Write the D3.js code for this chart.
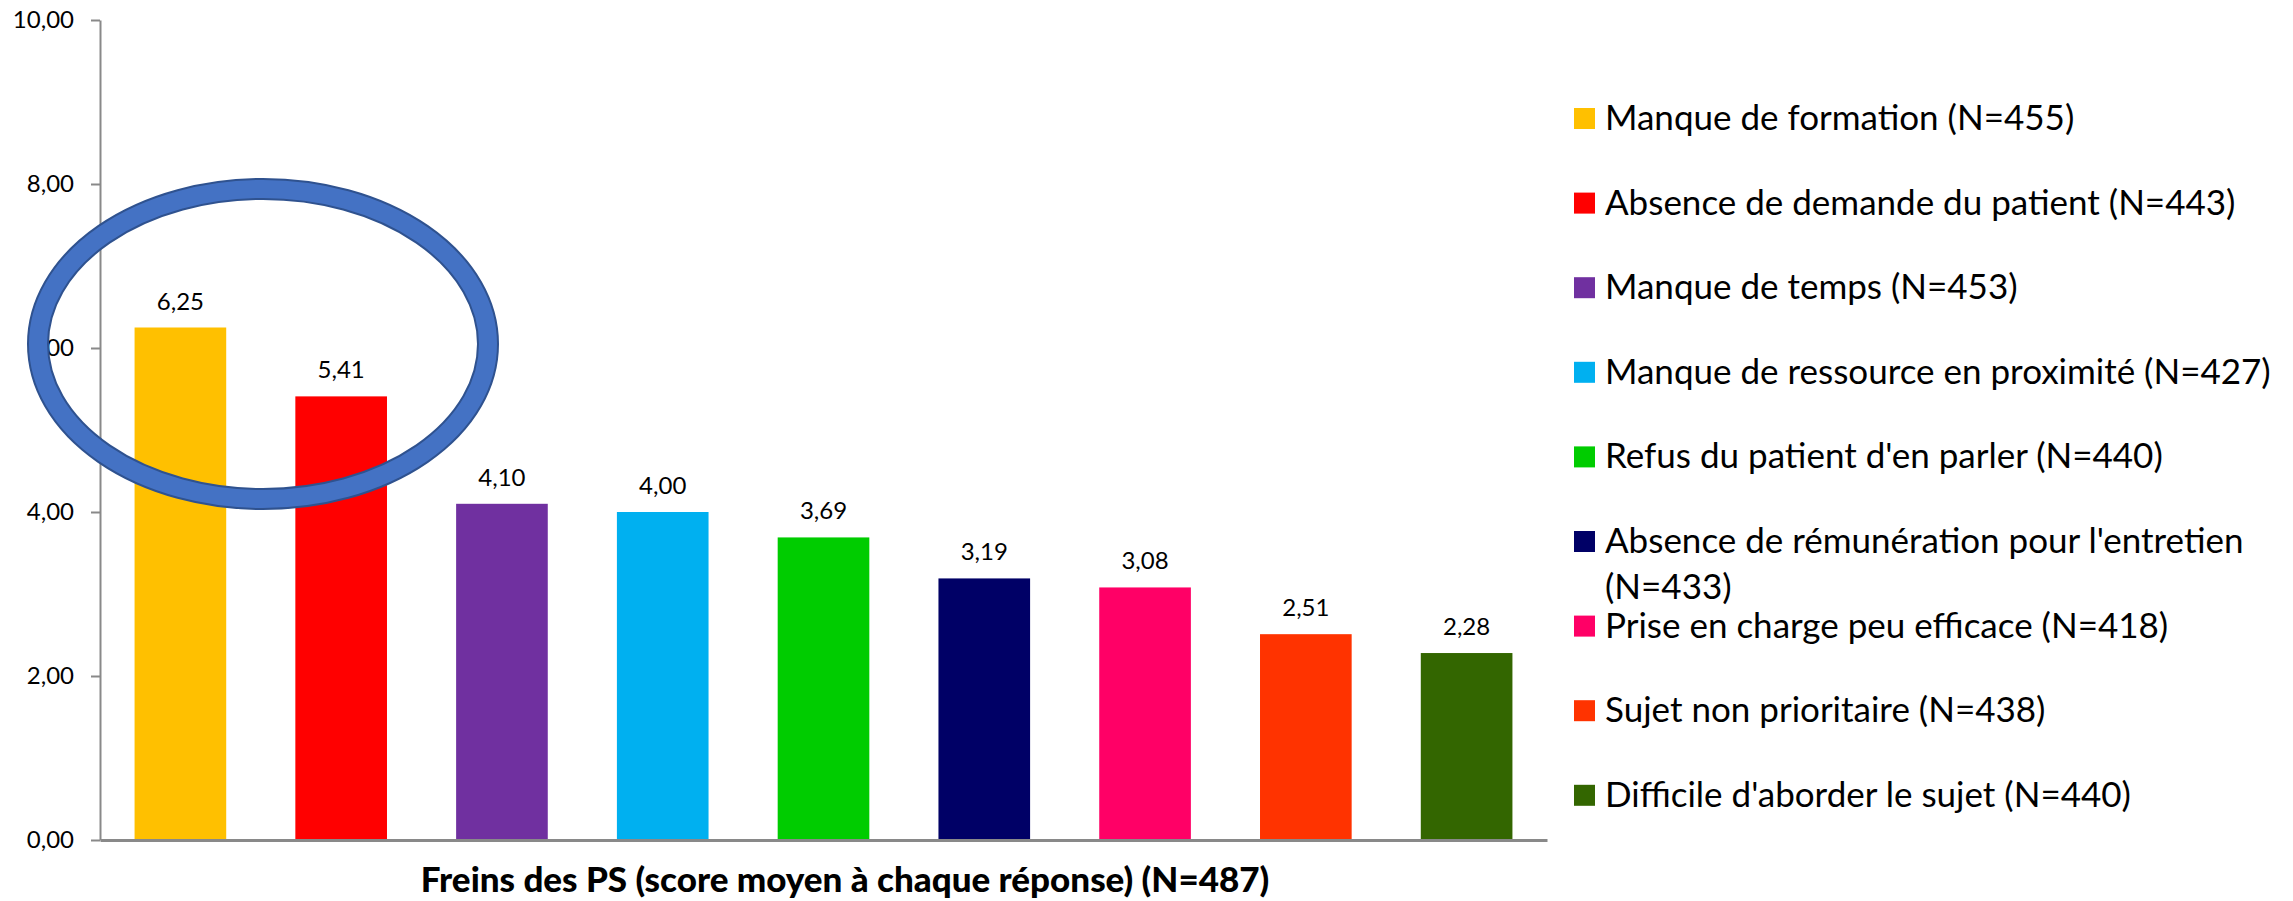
<!DOCTYPE html>
<html>
<head>
<meta charset="utf-8">
<script src="https://cdn.jsdelivr.net/npm/d3@7"></script>
<style>
  body{margin:0;background:#fff;}
  svg{display:block;font-family:Lato,"Open Sans",sans-serif;}
</style>
</head>
<body>
<svg width="2293" height="901"></svg>
<script>
// chart values
const categories=['Manque de formation (N=455)','Absence de demande du patient (N=443)','Manque de temps (N=453)',
  'Manque de ressource en proximité (N=427)',"Refus du patient d'en parler (N=440)",
  "Absence de rémunération pour l'entretien (N=433)",'Prise en charge peu efficace (N=418)',
  'Sujet non prioritaire (N=438)',"Difficile d'aborder le sujet (N=440)"];
const scores=[6.25,5.41,4.10,4.00,3.69,3.19,3.08,2.51,2.28];
const barColors=['#FFC000','#FF0000','#7030A0','#00B0F0','#00CC00','#000066','#FF0066','#FF3300','#336600'];
const yTicks=[0,2,4,6,8,10];
const axisTitle='Freins des PS (score moyen à chaque réponse) (N=487)';

const svg=d3.select('svg');
const fr=d3.formatLocale({decimal:',',thousands:' ',grouping:[3],currency:['','€']});
const fmt=fr.format('.2f');

const x=d3.scaleBand().domain(categories).range([100,1547]).paddingInner(0.43).paddingOuter(0.215);
const y=d3.scaleLinear().domain([0,10]).range([840,20]);
const color=d3.scaleOrdinal().domain(categories).range(barColors);

// y axis
const yAxis=svg.append('g')
   .attr('transform','translate(100,0)')
   .call(d3.axisLeft(y).tickValues(yTicks).tickFormat(fmt).tickSize(9).tickSizeOuter(0).tickPadding(17));
yAxis.select('.domain').attr('stroke','#898989').attr('stroke-width',2);
yAxis.selectAll('.tick line').attr('stroke','#898989').attr('stroke-width',2);
yAxis.selectAll('.tick text').attr('font-size',24).attr('fill','#000').attr('font-family','Lato');

// bars
svg.selectAll('rect.bar')
   .data(categories)
   .enter()
   .append('rect')
   .attr('class','bar')
   .attr('x',d=>x(d))
   .attr('width',x.bandwidth())
   .attr('y',(d,i)=>y(scores[i]))
   .attr('height',(d,i)=>y(0)-y(scores[i]))
   .attr('fill',d=>color(d));

// value labels
svg.selectAll('text.val')
   .data(categories)
   .enter()
   .append('text')
   .attr('class','val')
   .attr('x',d=>x(d)+x.bandwidth()/2)
   .attr('y',(d,i)=>y(scores[i])-18)
   .attr('text-anchor','middle')
   .attr('font-size',24)
   .text((d,i)=>fmt(scores[i]));

// x axis line
const xAxis=svg.append('g')
   .attr('transform','translate(0,840)')
   .call(d3.axisBottom(x).tickSize(0).tickFormat(''));
xAxis.select('.domain').attr('stroke','#898989').attr('stroke-width',3);

// axis title
svg.append('text')
   .attr('x',845)
   .attr('y',892)
   .attr('text-anchor','middle')
   .attr('font-size',35)
   .attr('font-weight','900')
   .text(axisTitle);

// legend
const legend=svg.append('g');
const rowStep=84.6, maxW=685;
categories.forEach((c,i)=>{
  const top=108+i*rowStep;
  legend.append('rect')
     .attr('x',1574).attr('y',top)
     .attr('width',21).attr('height',21)
     .attr('fill',barColors[i]);
  const t=legend.append('text')
     .attr('x',1605).attr('y',top+22)
     .attr('font-size',35);
  // simple word wrap
  let words=c.split(' '), line=[], ts=t.append('tspan').attr('x',1605);
  words.forEach(w=>{
    line.push(w);
    ts.text(line.join(' '));
    if(ts.node().getComputedTextLength()>maxW && line.length>1){
      line.pop();
      ts.text(line.join(' '));
      line=[w];
      ts=t.append('tspan').attr('x',1605).attr('dy',46).text(w);
    }
  });
});

// highlight ring round the two first bars
const ring={cx:263,cy:344,rx:225,ry:155};
svg.append('ellipse')
   .attr('cx',ring.cx).attr('cy',ring.cy).attr('rx',ring.rx).attr('ry',ring.ry)
   .attr('fill','none').attr('stroke','#2F528F').attr('stroke-width',22);
svg.append('ellipse')
   .attr('cx',ring.cx).attr('cy',ring.cy).attr('rx',ring.rx).attr('ry',ring.ry)
   .attr('fill','none').attr('stroke','#4472C4').attr('stroke-width',18);
</script>
</body>
</html>
